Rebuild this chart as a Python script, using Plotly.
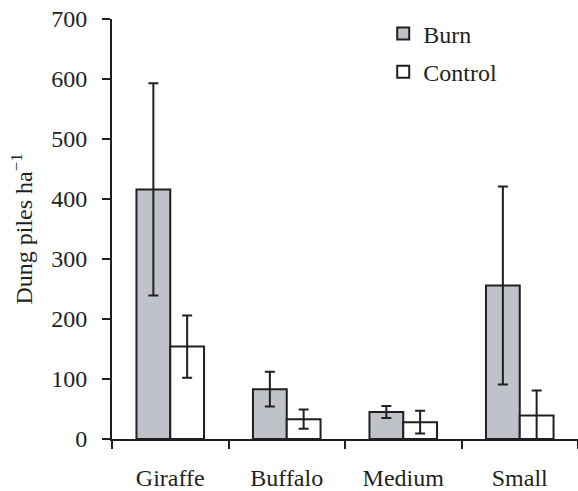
import plotly.graph_objects as go

categories = ["Giraffe", "Buffalo", "Medium", "Small"]
burn = [416, 83, 45, 256]
burn_err = [177, 29, 10, 165]
control = [154, 33, 28, 39]
control_err = [52, 16, 19, 42]
y_ticks = [0, 100, 200, 300, 400, 500, 600, 700]

ink = "#231f20"
font = dict(family="Liberation Serif, Times New Roman, serif", size=24, color=ink)

fig = go.Figure()
fig.add_trace(go.Bar(
    x=categories, y=burn, name="Burn", legendgroup="b",
    marker=dict(color="#c0c2ca", line=dict(color=ink, width=2)),
    error_y=dict(type="data", array=burn_err, color=ink, thickness=2, width=5),
))
fig.add_trace(go.Bar(
    x=categories, y=control, name="Control", legendgroup="c",
    marker=dict(color="white", line=dict(color=ink, width=2)),
    error_y=dict(type="data", array=control_err, color=ink, thickness=2, width=5),
))

fig.update_layout(
    width=578, height=491,
    margin=dict(l=112, r=0, t=19, b=50),
    paper_bgcolor="white", plot_bgcolor="white",
    font=font,
    barmode="group", bargap=0.42, bargroupgap=0,
    showlegend=True,
    legend=dict(x=0.582, y=1.018, xanchor="left", yanchor="top",
                font=font, bgcolor="rgba(0,0,0,0)", tracegroupgap=4,
                itemwidth=30),
    xaxis=dict(
        range=[-0.5, 3.5], showline=True, linecolor=ink, linewidth=2,
        ticks="outside", ticklen=8, tickwidth=2, tickcolor=ink,
        tickson="boundaries", ticklabelstandoff=16,
        showgrid=False, zeroline=False, tickfont=font,
    ),
    yaxis=dict(
        range=[0, 700], tickvals=y_ticks, showline=True, linecolor=ink, linewidth=2,
        ticks="outside", ticklen=8, tickwidth=2, tickcolor=ink,
        ticklabelstandoff=10,
        showgrid=False, zeroline=False, tickfont=font,
        title=dict(text="Dung piles ha<sup>−1</sup>", font=font, standoff=12),
    ),
)

fig.write_html("out.html", config={"displayModeBar": False},
               post_script="document.body.style.margin='0px';")
